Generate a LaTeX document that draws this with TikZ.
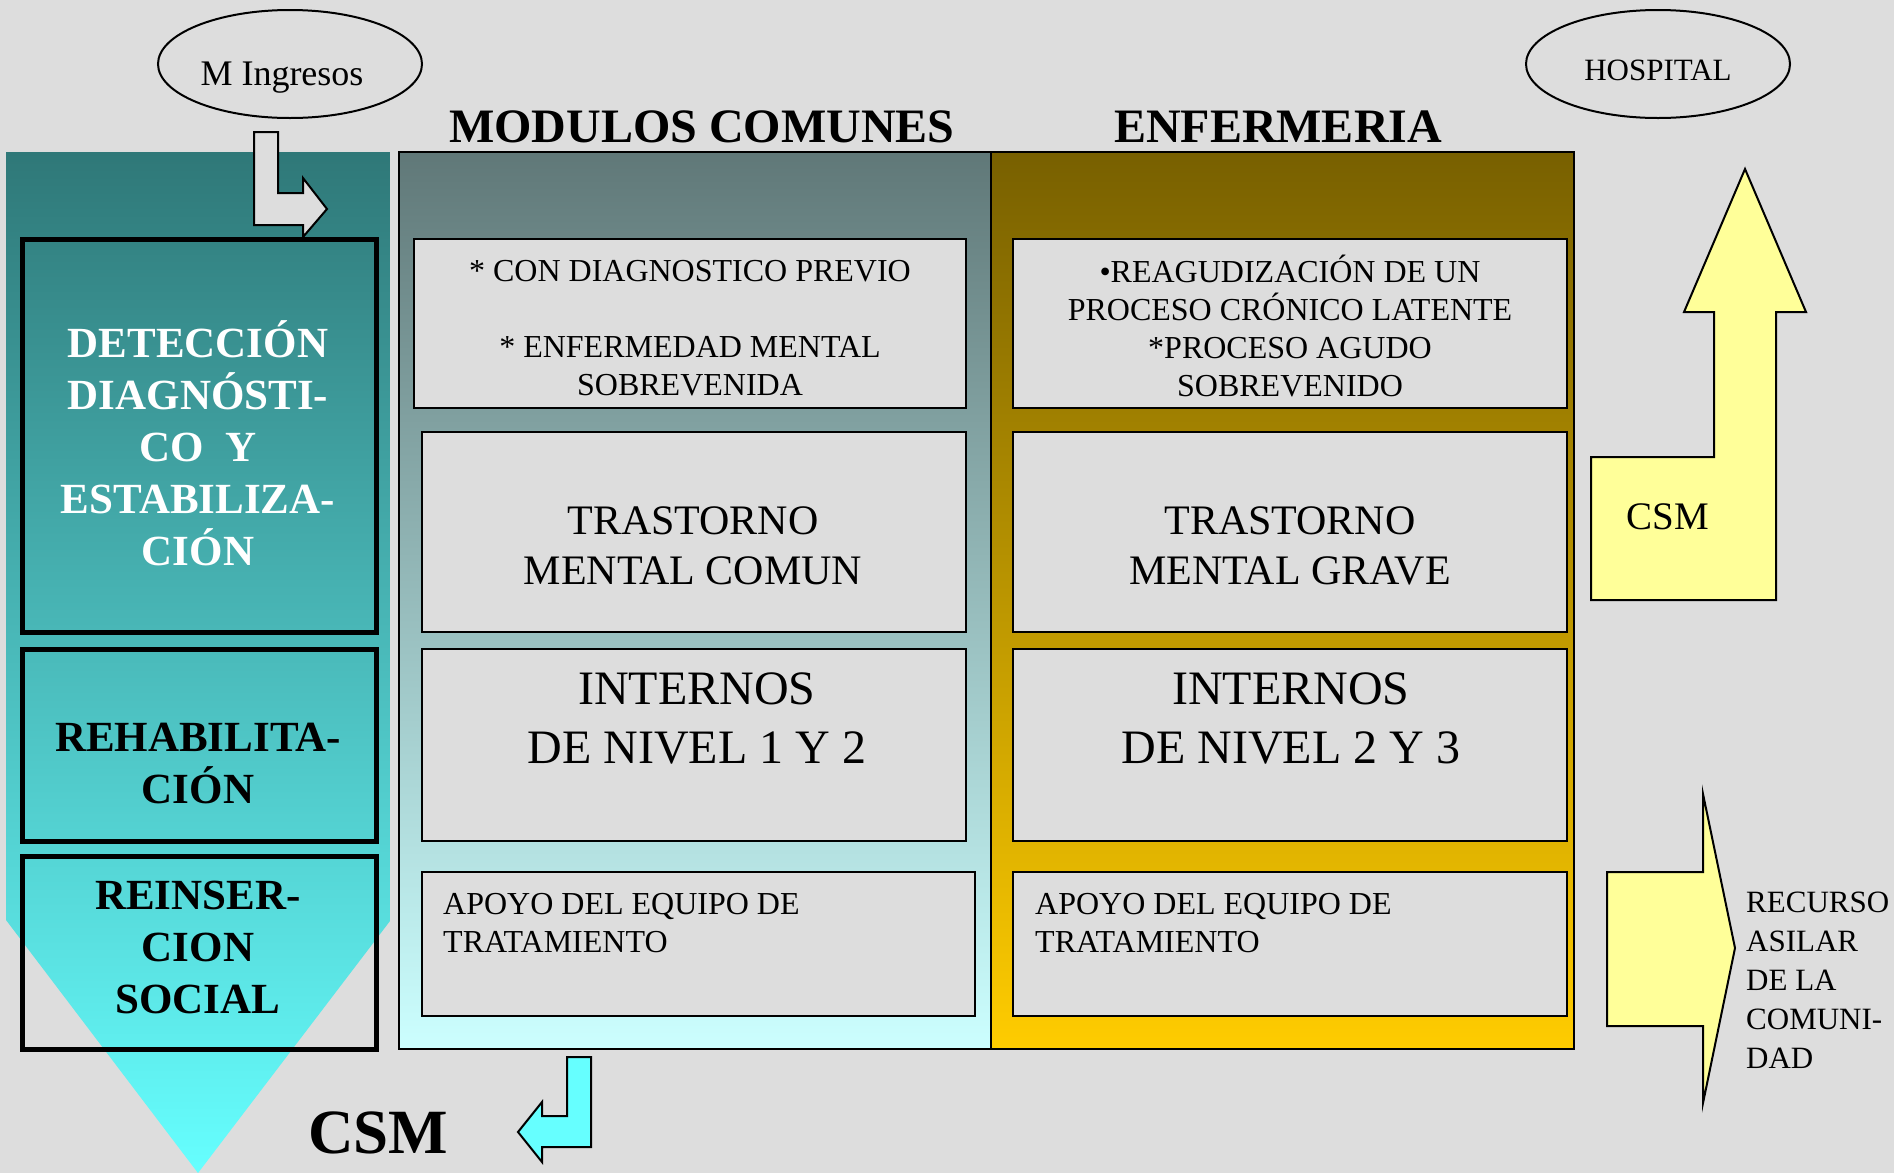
\documentclass[tikz,border=0pt]{standalone}
\usepackage{fontspec}
\setmainfont{Liberation Serif}
\usetikzlibrary{shapes.geometric}
\definecolor{bg}{HTML}{DDDDDD}
\definecolor{tealtop}{HTML}{2F7878}
\definecolor{tealbot}{HTML}{66FFFF}
\definecolor{midtop}{HTML}{607878}
\definecolor{midbot}{HTML}{CCFFFF}
\definecolor{enftop}{HTML}{786000}
\definecolor{enfbot}{HTML}{FFCC00}
\definecolor{yel}{HTML}{FFFF99}
\definecolor{cyanarrow}{HTML}{66FFFF}
\newcommand\fsSmall{\fontsize{32}{38}\selectfont}
\newcommand\fsMid{\fontsize{42}{50}\selectfont}
\newcommand\fsInt{\fontsize{48}{59}\selectfont}
\newcommand\fsLeft{\fontsize{43}{52}\selectfont\bfseries}
\newcommand\fsHead{\fontsize{48}{56}\selectfont\bfseries}
\begin{document}
\begin{tikzpicture}[x=1pt,y=-1pt,
  inbox/.style={draw=black,line width=2.5pt,fill=bg},
  leftbox/.style={draw=black,line width=5pt},
  blockarrow/.style={draw=black,line width=2pt,line join=miter},
  txt/.style={inner sep=0pt,align=center,text=black},
  oval/.style={draw=black,ellipse,line width=2pt,minimum width=264pt,minimum height=108pt,inner sep=0pt}
  ]
\fill[bg] (0,0) rectangle (1894,1173);
\useasboundingbox (0,0) rectangle (1894,1173);
% left pentagon
\shade[top color=tealtop,bottom color=tealbot] (6,152) -- (390,152) -- (390,921) -- (198,1173) -- (6,920) -- cycle;
% panels
\shadedraw[top color=midtop,bottom color=midbot,draw=black,line width=2pt] (399,152) rectangle (991,1049);
\shadedraw[top color=enftop,bottom color=enfbot,draw=black,line width=2pt] (991,152) rectangle (1574,1049);
% headers
\node[txt,font=\fsHead] (hmod) at (702,127) {MODULOS COMUNES};
\node[txt,font=\fsHead] (henf) at (1278,127) {ENFERMERIA};
% ellipses
\node[oval] (ming) at (290,64) {};
\node[txt,font=\fontsize{36}{40}\selectfont,text depth=0pt] (mingt) at (282,74) {M Ingresos};
\node[oval] (hosp) at (1658,64) {};
\node[txt,font=\fontsize{31}{36}\selectfont,text depth=0pt] (hospt) at (1658,70) {HOSPITAL};
% left boxes
\draw[leftbox] (22,239) rectangle (376,632);
\draw[leftbox] (22,649) rectangle (376,841);
\draw[leftbox] (22,856) rectangle (376,1049);
\node[txt,font=\fsLeft,text=white] (det) at (198,443) {DETECCIÓN\\DIAGNÓSTI-\\CO~~Y\\ESTABILIZA-\\CIÓN};
\node[txt,font=\fsLeft] (reh) at (198,764) {REHABILITA-\\CIÓN};
\node[txt,font=\fsLeft] (rei) at (198,947) {REINSER-\\CION\\SOCIAL};
% middle column boxes
\draw[inbox] (414,239) rectangle (966,408);
\draw[inbox] (422,432) rectangle (966,632);
\draw[inbox] (422,649) rectangle (966,841);
\draw[inbox] (422,872) rectangle (975,1016);
\node[txt,font=\fsSmall] (ma) at (690,328) {* CON DIAGNOSTICO PREVIO\\[38pt]* ENFERMEDAD MENTAL\\SOBREVENIDA};
\node[txt,font=\fsMid] (mb) at (693,546) {TRASTORNO\\MENTAL COMUN};
\node[txt,font=\fsInt] (mc) at (697,718) {INTERNOS\\DE NIVEL 1 Y 2};
\node[txt,font=\fsSmall,align=left,anchor=west] (md) at (443,923) {APOYO DEL EQUIPO DE\\TRATAMIENTO};
% right column boxes
\draw[inbox] (1013,239) rectangle (1567,408);
\draw[inbox] (1013,432) rectangle (1567,632);
\draw[inbox] (1013,649) rectangle (1567,841);
\draw[inbox] (1013,872) rectangle (1567,1016);
\node[txt,font=\fsSmall] (ea) at (1290,326) {•REAGUDIZACIÓN DE UN\\PROCESO CRÓNICO LATENTE\\*PROCESO AGUDO\\SOBREVENIDO};
\node[txt,font=\fsMid] (eb) at (1290,546) {TRASTORNO\\MENTAL GRAVE};
\node[txt,font=\fsInt] (ec) at (1291,718) {INTERNOS\\DE NIVEL 2 Y 3};
\node[txt,font=\fsSmall,align=left,anchor=west] (ed) at (1035,923) {APOYO DEL EQUIPO DE\\TRATAMIENTO};
% M Ingresos bent arrow
\draw[blockarrow,fill=bg] (254,132) -- (278,132) -- (278,193) -- (303,193) -- (303,178) -- (327,209) -- (303,237) -- (303,225) -- (254,225) -- cycle;
% bottom CSM arrow
\draw[blockarrow,fill=cyanarrow] (567,1057) -- (591,1057) -- (591,1147) -- (542,1147) -- (542,1162) -- (518,1132) -- (542,1102) -- (542,1116) -- (567,1116) -- cycle;
\node[txt,font=\fontsize{63}{70}\selectfont\bfseries] (csmb) at (378,1133) {CSM};
% yellow up arrow
\draw[blockarrow,fill=yel] (1591,457) -- (1714,457) -- (1714,312) -- (1684,312) -- (1745,169) -- (1806,312) -- (1776,312) -- (1776,600) -- (1591,600) -- cycle;
\node[txt,font=\fontsize{39}{44}\selectfont] (csmy) at (1668,517) {CSM};
% right arrow
\draw[blockarrow,fill=yel] (1607,872) -- (1703,872) -- (1703,794) -- (1735,948) -- (1703,1103) -- (1703,1026) -- (1607,1026) -- cycle;
\node[txt,font=\fontsize{31}{39}\selectfont,align=left,anchor=west] (rec) at (1746,980) {RECURSO\\ASILAR\\DE LA\\COMUNI-\\DAD};
\end{tikzpicture}
\end{document}
